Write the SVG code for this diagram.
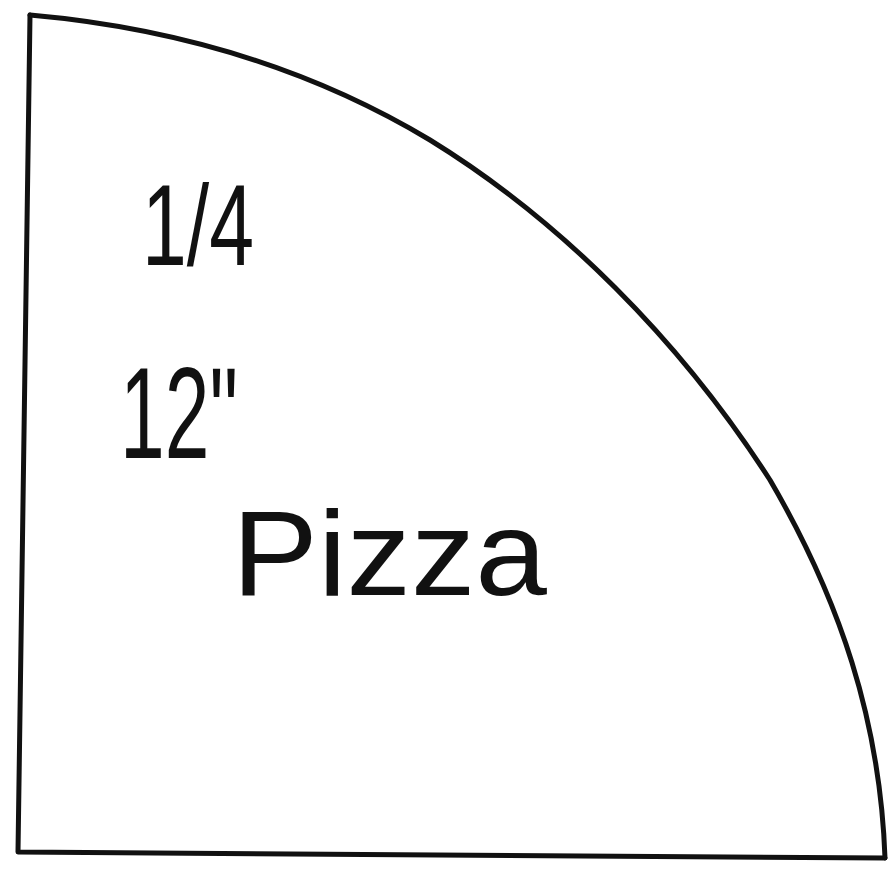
<svg xmlns="http://www.w3.org/2000/svg" width="888" height="879" viewBox="0 0 888 879">
<style>
.edge{fill:none;stroke:#111;stroke-width:5;stroke-linecap:round;stroke-linejoin:round}
.lbl{font-family:"Liberation Sans",Arial,sans-serif;fill:#111}
</style>
<rect width="888" height="879" fill="#fff"/>
<g id="slice">
<path class="edge" d="M30,15 L18,852 L885,858"/>
<path class="edge" d="M30,15 C200,30 330,80 430,140 C560,220 680,340 770,480 C840,600 880,720 885,858"/>
</g>
<g id="labels">
<text class="lbl" x="142" y="265" font-size="115" textLength="112" lengthAdjust="spacingAndGlyphs">1/4</text>
<text class="lbl" x="120" y="458" font-size="130" textLength="118" lengthAdjust="spacingAndGlyphs">12"</text>
<text class="lbl" x="232" y="595" font-size="120" textLength="315" lengthAdjust="spacingAndGlyphs">Pizza</text>
</g>
</svg>
